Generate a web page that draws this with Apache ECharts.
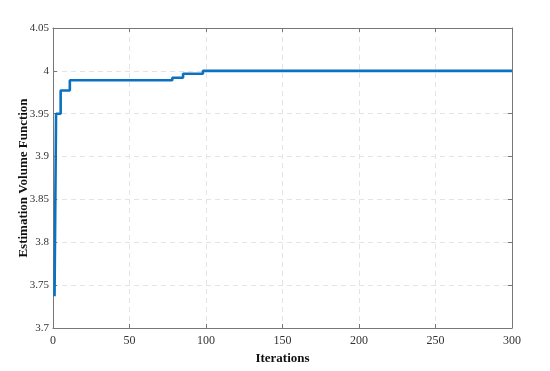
<!DOCTYPE html>
<html><head><meta charset="utf-8">
<script src="https://cdn.jsdelivr.net/npm/echarts@6/dist/echarts.min.js"></script>
<style>html,body{margin:0;padding:0;background:#fff}#c{width:550px;height:371px}</style>
</head><body><div id="c"></div>
<script>
const iterations = [1, 2, 5, 11, 78, 85, 98, 300];
const values = [3.737, 3.95, 3.977, 3.989, 3.992, 3.9967, 4.0, 4.0];
const xTicks = [0, 50, 100, 150, 200, 250, 300];
const yTicks = [3.7, 3.75, 3.8, 3.85, 3.9, 3.95, 4, 4.05];

const font = '"Liberation Serif", "DejaVu Serif", serif';
const chart = echarts.init(document.getElementById('c'));
const data = iterations.map((x, i) => [x, values[i]]);
const lineCol = '#777';
const axisCommon = {
  axisLine: {show: true, onZero: false, lineStyle: {color: lineCol, width: 1}},
  axisTick: {show: true, inside: true, length: 4, lineStyle: {color: lineCol}},
  splitLine: {show: true, lineStyle: {color: '#e4e4e4', type: [5, 4], width: 1}},
  axisLabel: {color: '#333', fontFamily: font, fontSize: 12},
  nameTextStyle: {color: '#111', fontFamily: font, fontSize: 13, fontWeight: 'bold'}
};
const mirror = {
  axisLine: {show: true, onZero: false, lineStyle: {color: lineCol, width: 1}},
  axisTick: {show: true, inside: true, length: 4, lineStyle: {color: lineCol}},
  axisLabel: {show: false}, splitLine: {show: false}
};
chart.setOption({
  animation: false,
  grid: {left: 53, right: 38, top: 28, bottom: 43},
  xAxis: [Object.assign({}, axisCommon, {
    type: 'value', min: 0, max: 300, interval: 50,
    name: 'Iterations', nameLocation: 'middle', nameGap: 22,
    axisLabel: Object.assign({}, axisCommon.axisLabel, {margin: 7})
  }), Object.assign({}, mirror, {type: 'value', position: 'top', min: 0, max: 300, interval: 50})],
  yAxis: [Object.assign({}, axisCommon, {
    type: 'value', min: 3.7, max: 4.05, interval: 0.05,
    name: 'Estimation Volume Function', nameLocation: 'middle', nameGap: 23, nameMoveOverlap: false,
    axisLabel: Object.assign({}, axisCommon.axisLabel, {fontSize: 11, margin: 4, formatter: v => String(parseFloat(v.toFixed(2)))})
  }), Object.assign({}, mirror, {type: 'value', position: 'right', min: 3.7, max: 4.05, interval: 0.05})],
  series: [{
    type: 'line', data: data, step: 'end', showSymbol: false, xAxisIndex: 0, yAxisIndex: 0,
    lineStyle: {color: '#0a72c0', width: 2.6}
  }]
});
</script></body></html>
